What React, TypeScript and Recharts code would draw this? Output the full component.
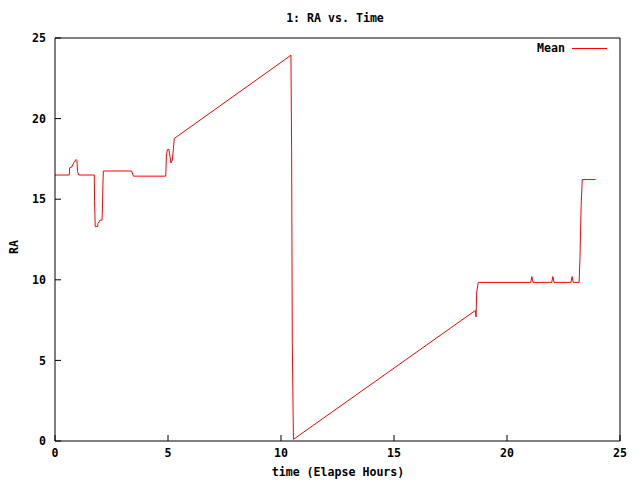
import { LineChart, Line, XAxis, YAxis } from 'recharts'

// ── Data (elapsed hours vs. mean RA) ────────────────────────────────────────

const hours = [
  0, 0.63, 0.65, 0.74, 0.84, 0.93, 0.97, 1.0, 1.05, 1.74,
  1.75, 1.78, 1.89, 1.9, 2.0, 2.08, 2.1, 2.12, 2.14, 3.39,
  3.47, 4.9, 4.93, 4.97, 5.04, 5.09, 5.13, 5.19, 5.24, 5.28,
  10.44, 10.47, 10.5, 10.55, 18.55, 18.6, 18.63, 18.66, 18.73, 21.05,
  21.1, 21.15, 21.98, 22.03, 22.08, 22.83, 22.88, 22.93, 23.19, 23.23,
  23.28, 23.33, 23.92,
]

const meanRA = [
  16.5, 16.5, 16.95, 17.0, 17.28, 17.46, 17.4, 16.7, 16.5, 16.5,
  14.9, 13.3, 13.3, 13.5, 13.7, 13.7, 14.4, 15.9, 16.75, 16.75,
  16.43, 16.43, 17.67, 18.08, 18.08, 17.63, 17.25, 17.42, 18.14, 18.77,
  23.93, 18.0, 6.1, 0.1, 8.05, 8.1, 7.7, 9.25, 9.84, 9.84,
  10.2, 9.84, 9.84, 10.2, 9.84, 9.84, 10.2, 9.84, 9.84, 11.4,
  14.6, 16.22, 16.22,
]

const xTicks = [0, 5, 10, 15, 20, 25]
const yTicks = [0, 5, 10, 15, 20, 25]

const data = hours.map((t, i) => ({ t, mean: meanRA[i] }))

// ── Styles ──────────────────────────────────────────────────────────────────

const FONT = '"DejaVu Sans Mono", "Liberation Mono", monospace'
const tickStyle = { fill: '#000', fontSize: 11.6, fontWeight: 700, fontFamily: FONT }
const textStyle: React.CSSProperties = {
  position: 'absolute', color: '#000', fontSize: 11.6, fontWeight: 700,
  fontFamily: FONT, lineHeight: '14px', whiteSpace: 'nowrap',
}
const axisLine = { stroke: '#000' }

export default function App() {
  return (
    <div style={{ position: 'absolute', left: 0, top: 0, width: 640, height: 480, background: '#fff' }}>
      <div style={{ ...textStyle, left: 0, width: 670, top: 11, textAlign: 'center' }}>1: RA vs. Time</div>
      <div style={{ ...textStyle, left: 0, width: 676, top: 465, textAlign: 'center' }}>time (Elapse Hours)</div>
      <div style={{ ...textStyle, left: 7, top: 233, transform: 'rotate(-90deg)', transformOrigin: '7px 7px' }}>
        <span style={{ position: 'relative', left: -7 }}>RA</span>
      </div>
      {/* legend */}
      <div style={{ ...textStyle, left: 537, top: 41, display: 'flex', alignItems: 'center', gap: 7 }}>
        <span>Mean</span>
        <div style={{ width: 35, height: 1, background: '#ff0000' }} />
      </div>
      <LineChart width={640} height={480} data={data}
        margin={{ top: 37, right: 19, bottom: 0, left: 0 }}>
        <XAxis dataKey="t" type="number" domain={[0, 25]} ticks={xTicks} interval={0}
          height={39} tick={tickStyle} tickSize={-6} tickMargin={14}
          axisLine={axisLine} tickLine={axisLine} />
        <XAxis xAxisId="top" orientation="top" dataKey="t" type="number" domain={[0, 25]} ticks={xTicks}
          interval={0} height={1} tick={false} tickSize={-6}
          axisLine={axisLine} tickLine={axisLine} />
        <YAxis type="number" domain={[0, 25]} ticks={yTicks} interval={0}
          width={55} tick={tickStyle} tickSize={-6} tickMargin={15}
          axisLine={axisLine} tickLine={axisLine} />
        <YAxis yAxisId="right" orientation="right" type="number" domain={[0, 25]} ticks={yTicks}
          interval={0} width={1} tick={false} tickSize={-6}
          axisLine={axisLine} tickLine={axisLine} />
        <Line type="linear" dataKey="mean" name="Mean" stroke="#ff0000" strokeWidth={1}
          dot={false} isAnimationActive={false} />
      </LineChart>
    </div>
  )
}
